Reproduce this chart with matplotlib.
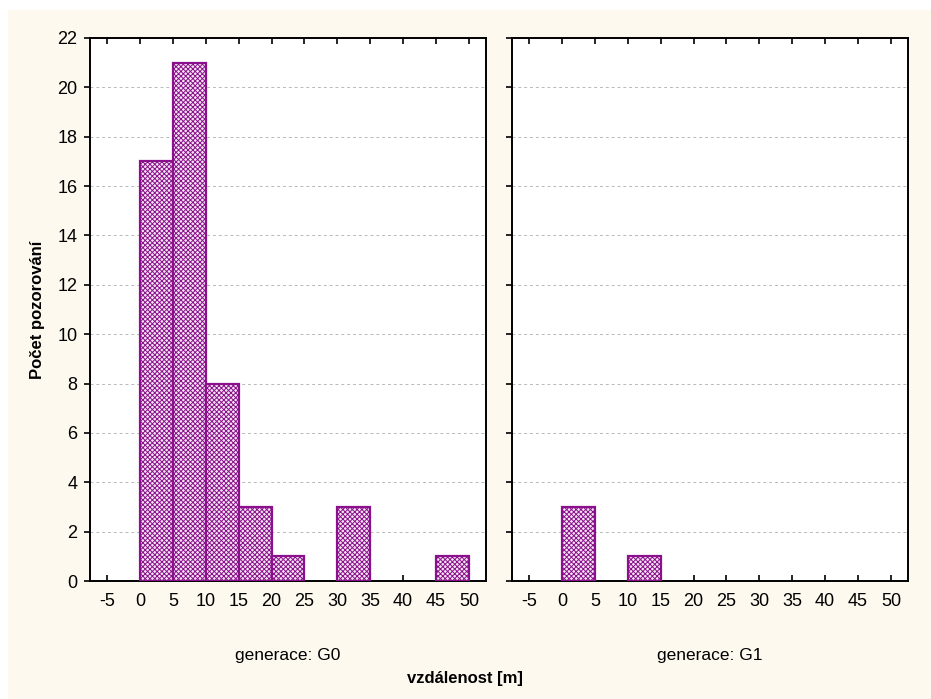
import numpy as np
import matplotlib
matplotlib.use("Agg")
import matplotlib.pyplot as plt
from matplotlib.patches import Rectangle

plt.rcParams['font.family'] = ['Liberation Sans', 'DejaVu Sans']
plt.rcParams['hatch.linewidth'] = 0.7
plt.rcParams['axes.unicode_minus'] = False

# histogram data (bin left edges, width 5)
bin_left = [0, 5, 10, 15, 20, 25, 30, 35, 40, 45]
counts_g0 = [17, 21, 8, 3, 1, 0, 3, 0, 0, 1]
counts_g1 = [3, 0, 1, 0, 0, 0, 0, 0, 0, 0]
panel_titles = ["generace: G0", "generace: G1"]
xticks = [-5, 0, 5, 10, 15, 20, 25, 30, 35, 40, 45, 50]
yticks = list(range(0, 23, 2))

W, H = 931, 699
fig = plt.figure(figsize=(W / 100, H / 100), dpi=100)
fig.patch.set_facecolor('white')
# cream background with thin white margin top/left
fig.patches.append(Rectangle((8 / W, 0), 1, (H - 10) / H, transform=fig.transFigure,
                             facecolor='#fef9ef', edgecolor='none', zorder=-10))

bar_col = '#8b108b'
axes_px = [(90, 486), (512, 908)]
top, bottom = 38, 581

for i, (counts, title) in enumerate(zip([counts_g0, counts_g1], panel_titles)):
    x0, x1 = axes_px[i]
    ax = fig.add_axes([x0 / W, 1 - bottom / H, (x1 - x0) / W, (bottom - top) / H])
    ax.set_facecolor('white')
    # empty bins are not drawn
    xs = [b for b, c in zip(bin_left, counts) if c > 0]
    cs = [c for c in counts if c > 0]
    ax.bar(xs, cs, width=5, align='edge', facecolor='#f4e4f4',
           edgecolor=bar_col, hatch='xxxxxxx', linewidth=1.6, zorder=3)
    ax.set_xlim(-7.6, 52.6)
    ax.set_ylim(0, 22)
    ax.set_xticks(xticks)
    ax.set_yticks(yticks)
    ax.yaxis.grid(True, linestyle=(0, (3, 3)), color='#b8b8b8', linewidth=0.7, zorder=0)
    ax.tick_params(axis='x', direction='in', top=True, length=4, width=1.2, labelsize=13, pad=9)
    ax.tick_params(axis='y', direction='out', length=4, width=1.2, labelsize=13, pad=5)
    if i == 1:
        ax.tick_params(axis='y', labelleft=False)
    else:
        ax.set_ylabel("Počet pozorování", fontsize=12, fontweight='bold', labelpad=9)
    for sp in ax.spines.values():
        sp.set_linewidth(1.4)
    ax.set_xlabel(title, fontsize=12.5, labelpad=27)

fig.text(465 / W, 1 - 678 / H, "vzdálenost [m]", ha='center', va='center',
         fontsize=12, fontweight='bold')

fig.savefig("out.png", dpi=100, facecolor=fig.get_facecolor())
